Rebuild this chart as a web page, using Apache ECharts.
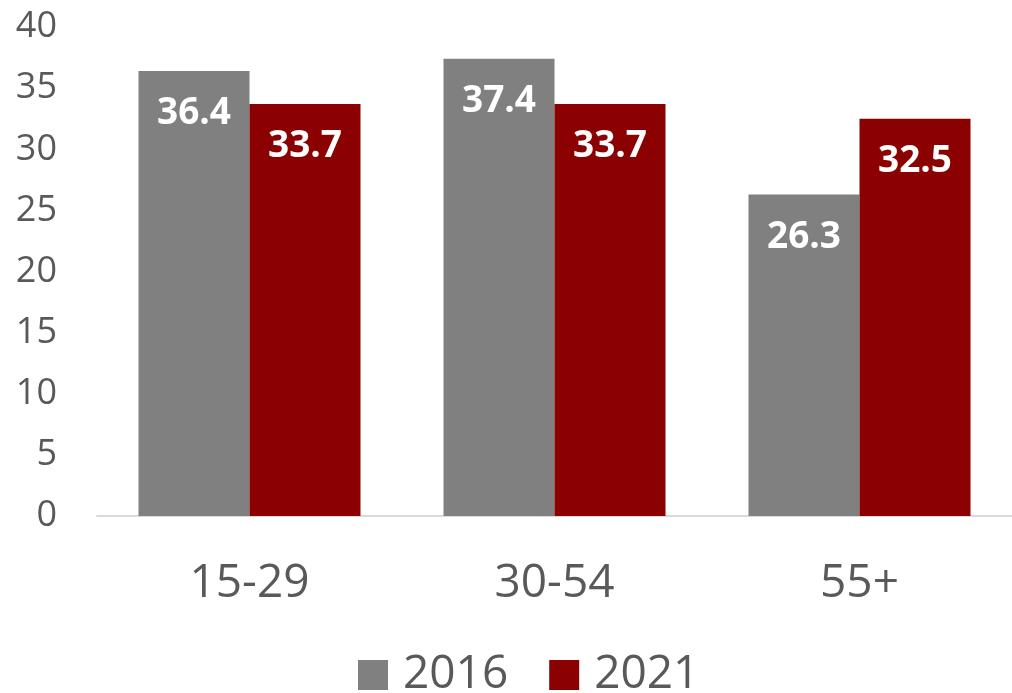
<!DOCTYPE html>
<html>
<head>
<meta charset="utf-8">
<script src="https://cdn.jsdelivr.net/npm/echarts@6/dist/echarts.min.js"></script>
<style>
html, body { margin: 0; padding: 0; background: #fff; }
#chart { width: 1012px; height: 693px; }
</style>
</head>
<body>
<div id="chart"></div>
<script>
var categories = ['15-29', '30-54', '55+'];
var values2016 = [36.4, 37.4, 26.3];
var values2021 = [33.7, 33.7, 32.5];
var seriesNames = ['2016', '2021'];

var textColor = '#595959';
var fontName = '"Open Sans", sans-serif';

function barLabel() {
    return {
        show: true,
        position: 'insideTop',
        distance: 24,
        color: '#fff',
        fontWeight: 'bold',
        fontSize: 37,
        fontFamily: fontName
    };
}

var option = {
    animation: false,
    grid: {
        left: 97,
        right: 0,
        top: 27,
        bottom: 177
    },
    legend: {
        data: seriesNames,
        top: 647,
        left: 353,
        itemWidth: 30,
        itemHeight: 30,
        itemGap: 41,
        icon: 'rect',
        textStyle: {
            color: textColor,
            fontSize: 46,
            fontFamily: fontName,
            padding: [0, 0, 0, 10]
        }
    },
    xAxis: {
        type: 'category',
        data: categories,
        axisTick: { show: false },
        axisLine: { lineStyle: { color: '#d9d9d9', width: 2 } },
        axisLabel: {
            color: textColor,
            fontSize: 46,
            fontFamily: fontName,
            margin: 45
        }
    },
    yAxis: {
        type: 'value',
        min: 0,
        max: 40,
        interval: 5,
        splitLine: { show: false },
        axisLine: { show: false },
        axisTick: { show: false },
        axisLabel: {
            color: textColor,
            fontSize: 36,
            fontFamily: fontName,
            margin: 40
        }
    },
    series: [
        {
            name: seriesNames[0],
            type: 'bar',
            data: values2016,
            barWidth: 111,
            barGap: '0%',
            itemStyle: { color: '#808080' },
            label: barLabel()
        },
        {
            name: seriesNames[1],
            type: 'bar',
            data: values2021,
            barWidth: 111,
            barGap: '0%',
            itemStyle: { color: '#8b0000' },
            label: barLabel()
        }
    ]
};

var myChart = echarts.init(document.getElementById('chart'));
myChart.setOption(option);
</script>
</body>
</html>
